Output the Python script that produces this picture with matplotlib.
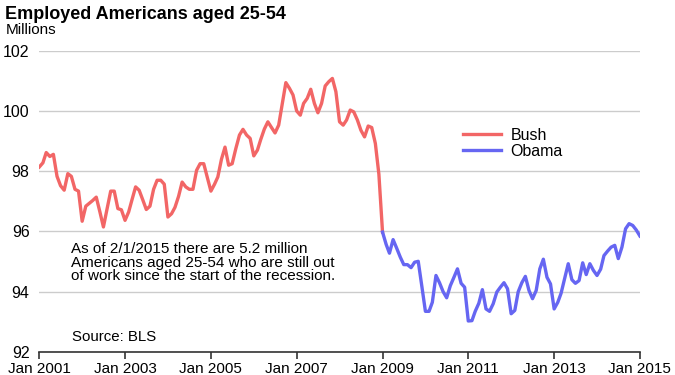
import numpy as np
import pandas as pd
import matplotlib
matplotlib.use('Agg')
import matplotlib.pyplot as plt

plt.rcParams['font.family'] = ['Liberation Sans', 'DejaVu Sans']

# monthly values, millions
bush_values = [
    98.14, 98.28, 98.62, 98.49, 98.56, 97.83, 97.52, 97.37, 97.92, 97.83, 97.40, 97.34,
    96.34, 96.84, 96.93, 97.03, 97.14, 96.65, 96.15, 96.75, 97.34, 97.34, 96.76, 96.72,
    96.37, 96.65, 97.05, 97.48, 97.37, 97.05, 96.73, 96.84, 97.40, 97.70, 97.70, 97.57,
    96.48, 96.59, 96.80, 97.17, 97.64, 97.48, 97.40, 97.40, 98.03, 98.25, 98.25, 97.80,
    97.34, 97.57, 97.81, 98.40, 98.80, 98.20, 98.25, 98.75, 99.20, 99.39, 99.20, 99.09,
    98.51, 98.70, 99.05, 99.40, 99.64, 99.45, 99.27, 99.53, 100.25, 100.94, 100.75, 100.53,
    100.00, 99.86, 100.25, 100.42, 100.72, 100.25, 99.94, 100.25, 100.83, 100.97, 101.08, 100.64,
    99.64, 99.53, 99.70, 100.03, 99.97, 99.70, 99.36, 99.14, 99.50, 99.45, 98.92, 97.90,
    95.98,
]
obama_values = [
    95.98, 95.57, 95.28, 95.73, 95.45, 95.15, 94.90, 94.90, 94.80, 94.98, 95.01, 94.20,
    93.35, 93.35, 93.65, 94.54, 94.30, 94.00, 93.80, 94.20, 94.48, 94.76, 94.28, 94.15,
    93.03, 93.04, 93.35, 93.62, 94.07, 93.43, 93.35, 93.60, 93.99, 94.15, 94.30, 94.10,
    93.27, 93.38, 94.00, 94.30, 94.51, 94.04, 93.77, 94.04, 94.76, 95.08, 94.48, 94.26,
    93.43, 93.65, 93.95, 94.45, 94.93, 94.40, 94.28, 94.37, 94.96, 94.57, 94.93, 94.71,
    94.54, 94.75, 95.20, 95.35, 95.48, 95.54, 95.10, 95.48, 96.09, 96.26, 96.20, 96.05,
    95.85,
]
bush_dates = pd.date_range('2001-01-01', periods=len(bush_values), freq='MS')
obama_dates = pd.date_range('2009-01-01', periods=len(obama_values), freq='MS')

tick_dates = pd.to_datetime(['2001-01-01', '2003-01-01', '2005-01-01', '2007-01-01',
                             '2009-01-01', '2011-01-01', '2013-01-01', '2015-01-01'])
tick_labels = ['Jan 2001', 'Jan 2003', 'Jan 2005', 'Jan 2007',
               'Jan 2009', 'Jan 2011', 'Jan 2013', 'Jan 2015']
y_ticks = [92, 94, 96, 98, 100, 102]

bush_color = '#f26666'
obama_color = '#6666f2'

fig = plt.figure(figsize=(6.75, 3.75), dpi=100)
ax = fig.add_axes([0.0582, 0.0613, 0.8898, 0.8035])

ax.plot(bush_dates, bush_values, color=bush_color, lw=2.4, label='Bush',
        solid_joinstyle='round', zorder=3)
ax.plot(obama_dates, obama_values, color=obama_color, lw=2.4, label='Obama',
        solid_joinstyle='round', zorder=3)

ax.set_xlim(tick_dates[0], tick_dates[-1])
ax.set_ylim(92, 102)
ax.set_yticks(y_ticks)
ax.set_yticklabels([str(v) for v in y_ticks])
ax.set_xticks(tick_dates)
ax.set_xticklabels(tick_labels)

for s in ['top', 'right', 'left']:
    ax.spines[s].set_visible(False)
ax.spines['bottom'].set_color('#333333')
ax.spines['bottom'].set_linewidth(1.2)
ax.yaxis.grid(True, color='#cccccc', lw=1)
ax.set_axisbelow(True)
ax.tick_params(axis='y', length=0, pad=7, labelsize=11.5)
ax.tick_params(axis='x', length=5, width=1.2, color='#333333', pad=2, labelsize=11)

ax.legend(loc='upper left', bbox_to_anchor=(0.694, 0.765), frameon=False,
          fontsize=11.5, handlelength=2.4, handletextpad=0.6,
          labelspacing=0.05, borderaxespad=0)

ax.text(0.052, 0.365,
        'As of 2/1/2015 there are 5.2 million\n'
        'Americans aged 25-54 who are still out\n'
        'of work since the start of the recession.',
        transform=ax.transAxes, fontsize=11, va='top', ha='left', linespacing=0.96)
ax.text(0.055, 0.05, 'Source: BLS', transform=ax.transAxes, fontsize=10.8,
        va='center', ha='left')

fig.text(0.007, 0.985, 'Employed Americans aged 25-54', fontsize=13, fontweight='bold',
         va='top', ha='left')
fig.text(0.009, 0.938, 'Millions', fontsize=11, va='top', ha='left')

fig.savefig('out.png', dpi=100)
